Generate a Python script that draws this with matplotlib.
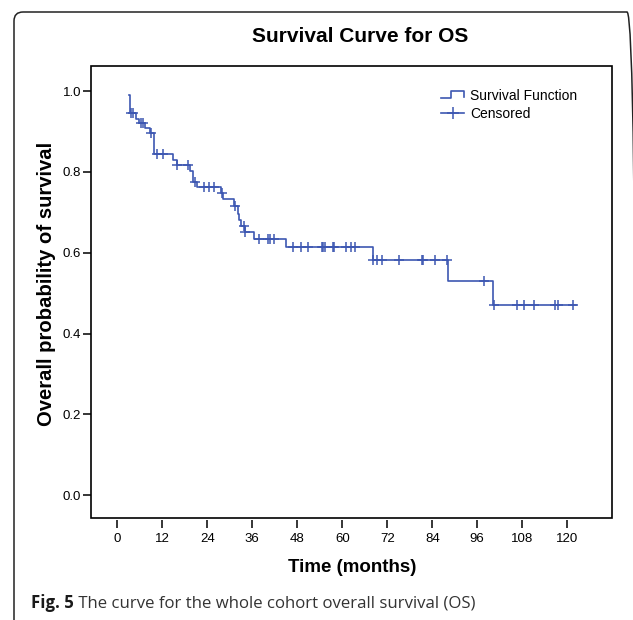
import numpy as np
import matplotlib
matplotlib.use('Agg')
import matplotlib.pyplot as plt
from matplotlib.lines import Line2D
from matplotlib.legend_handler import HandlerBase
from matplotlib.patches import Rectangle, FancyBboxPatch

plt.rcParams['font.family'] = ['Liberation Sans', 'DejaVu Sans']

# Kaplan-Meier steps (months, survival after the step)
event_times = [3.0, 3.3, 3.5, 5.0, 5.8, 7.5, 8.8, 9.7, 14.8, 15.9, 19.3, 20.2, 21.2,
               27.7, 28.3, 31.2, 32.1, 32.5, 33.0, 34.0, 36.4, 45.1, 68.2, 88.1, 100.1]
survival = [0.99, 0.97, 0.945, 0.932, 0.92, 0.908, 0.896, 0.844, 0.829, 0.817, 0.803,
            0.776, 0.762, 0.748, 0.732, 0.716, 0.697, 0.681, 0.666, 0.652, 0.634,
            0.613, 0.583, 0.530, 0.470]
end_time = 122.2
censor_times = [3.6, 4.3, 6.3, 6.9, 9.0, 10.6, 12.3, 16.0, 18.8, 20.6, 23.0, 24.4,
                25.8, 27.9, 31.3, 33.7, 34.1, 37.9, 40.1, 40.8, 41.7, 46.9, 49.1,
                50.9, 54.5, 54.9, 55.4, 57.4, 57.8, 61.1, 62.4, 63.3, 68.3, 69.2,
                70.5, 75.0, 81.2, 81.5, 84.6, 87.9, 97.9, 100.5, 106.6, 108.5,
                111.0, 116.8, 117.4, 121.4]
x_ticks = list(range(0, 121, 12))
y_ticks = [0.0, 0.2, 0.4, 0.6, 0.8, 1.0]

blue = '#3d57b2'
W, H = 633, 620
fig = plt.figure(figsize=(W / 100, H / 100), dpi=100)


def fx(px):
    return px / W


def fy(py):
    return 1 - py / H


ax = fig.add_axes([fx(91), fy(517.5), (611.5 - 91) / W, (517.5 - 66) / H])

# survival curve + censor marks
xs = np.r_[event_times, end_time]
ys = np.r_[survival, survival[-1]]
ax.step(xs, ys, where='post', color=blue, lw=1.2)
idx = np.searchsorted(event_times, censor_times, side='right') - 1
cens_y = np.array(survival)[idx]
ax.plot(censor_times, cens_y, ls='none', marker='+', ms=7.5, mew=1.1, color=blue)

ax.set_xlim(-7.0, 131.8)
ax.set_ylim(-0.055, 1.062)
ax.set_xticks(x_ticks)
ax.set_yticks(y_ticks)
ax.set_yticklabels([f'{v:.1f}' for v in y_ticks])

for s in ax.spines.values():
    s.set_visible(False)
ax.spines['bottom'].set_position(('outward', 1.5))
ax.add_patch(Rectangle((0, 0), 1, 1, transform=ax.transAxes, fill=False,
                       lw=1.2, ec='black', clip_on=False, zorder=5))
ax.tick_params(axis='both', direction='out', length=6, width=1.1, labelsize=9.5,
               colors='black')
ax.tick_params(axis='y', pad=1)
ax.tick_params(axis='x', pad=3.5)


# legend with SPSS-like step glyph
class StepHandler(HandlerBase):
    def create_artists(self, legend, orig_handle, xdescent, ydescent, width,
                       height, fontsize, trans):
        x0 = -xdescent
        y0 = -ydescent
        hx = [x0, x0 + 0.45 * width, x0 + 0.45 * width, x0 + width, x0 + width]
        hy = [y0 + 0.2 * height, y0 + 0.2 * height, y0 + 0.95 * height,
              y0 + 0.95 * height, y0 + 0.3 * height]
        ln = Line2D(hx, hy, color=blue, lw=1.2, transform=trans)
        return [ln]


surv_handle = Line2D([], [], color=blue)
cens_handle = Line2D([], [], color=blue, marker='+', ms=8, mew=1.1, lw=1.2)
ax.legend([surv_handle, cens_handle], ['Survival Function', 'Censored'],
          handler_map={surv_handle: StepHandler()}, loc='upper left',
          bbox_to_anchor=((441 - 91) / 520.5, (517.5 - 89) / 451.5),
          frameon=False, borderpad=0, borderaxespad=0, fontsize=10,
          handlelength=1.66, handletextpad=0.45, labelspacing=0.3, numpoints=1)

# titles and axis labels
fig.text(fx(360), fy(37), 'Survival Curve for OS', ha='center', va='center',
         fontsize=15, fontweight='bold')
fig.text(fx(352), fy(568), 'Time (months)', ha='center', va='center',
         fontsize=13.5, fontweight='bold')
fig.text(fx(47), fy(284), 'Overall probability of survival', ha='center',
         va='center', rotation=90, fontsize=14.6, fontweight='bold')

# outer rounded frame (right edge sits just past the image border)
box = FancyBboxPatch((0.14, -0.3), 6.36 - 0.14, 6.08 + 0.3,
                     boxstyle='round,pad=0,rounding_size=0.09',
                     transform=fig.dpi_scale_trans, fill=False, lw=1.1,
                     ec='#222222')
fig.add_artist(box)

# caption, fitted to its width in the reference
cap_font = ['Open Sans', 'DejaVu Sans']
renderer = fig.canvas.get_renderer()
size = 13
t1 = fig.text(fx(31), fy(603), 'Fig. 5', ha='left', va='center', fontsize=size,
              fontweight='bold', family=cap_font, color='#1a1a1a')
t2 = fig.text(fx(31), fy(603), ' The curve for the whole cohort overall survival (OS)',
              ha='left', va='center', fontsize=size, family=cap_font, color='#333333')
for _ in range(3):
    w1 = t1.get_window_extent(renderer).width
    w2 = t2.get_window_extent(renderer).width
    size = size * (478 - 31) / (w1 + w2)
    t1.set_fontsize(size)
    t2.set_fontsize(size)
w1 = t1.get_window_extent(renderer).width
t2.set_x(fx(31 + w1))

fig.savefig('out.png', dpi=100)
